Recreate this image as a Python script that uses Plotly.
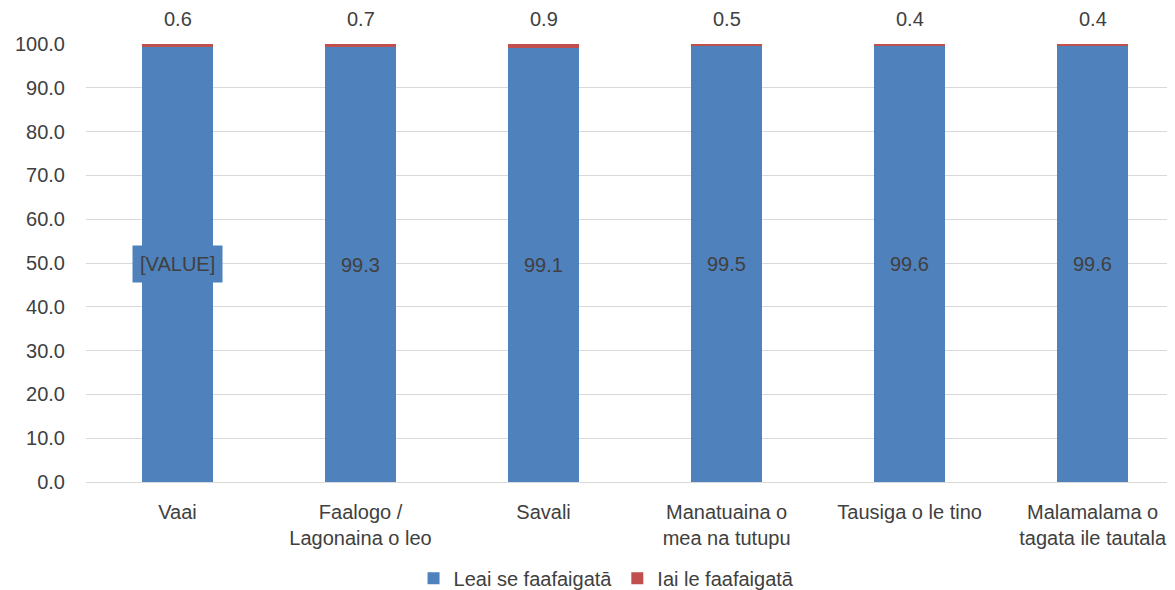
import plotly.graph_objects as go

categories = ["Vaai", "Faalogo /<br>Lagonaina o leo", "Savali", "Manatuaina o<br>mea na tutupu",
              "Tausiga o le tino", "Malamalama o<br>tagata ile tautala"]
leai = [99.4, 99.3, 99.1, 99.5, 99.6, 99.6]
iai = [0.6, 0.7, 0.9, 0.5, 0.4, 0.4]
leai_labels = ["[VALUE]", "99.3", "99.1", "99.5", "99.6", "99.6"]
iai_labels = ["0.6", "0.7", "0.9", "0.5", "0.4", "0.4"]
series_names = ["Leai se faafaigatā", "Iai le faafaigatā"]
y_ticks = [0, 10, 20, 30, 40, 50, 60, 70, 80, 90, 100]

BLUE = "#4F81BD"
RED = "#C0504D"
TXT = "#404040"
FONT = "Liberation Sans"
FS = 20

fig = go.Figure()
fig.add_trace(go.Bar(x=categories, y=leai, name=series_names[0], marker_color=BLUE,
                     width=0.39, marker_line_width=0))
fig.add_trace(go.Bar(x=categories, y=iai, name=series_names[1], marker_color=RED,
                     width=0.39, marker_line_width=0))

for i, c in enumerate(categories):
    fig.add_annotation(x=c, y=leai[i] / 2, text=leai_labels[i], showarrow=False,
                       font=dict(family=FONT, size=FS, color=TXT),
                       bgcolor=BLUE if i == 0 else "rgba(0,0,0,0)",
                       borderpad=7 if i == 0 else 0)
    fig.add_annotation(x=c, y=leai[i] + iai[i], text=iai_labels[i], showarrow=False,
                       yanchor="bottom", yshift=12,
                       font=dict(family=FONT, size=FS, color=TXT))

fig.update_layout(
    width=1167, height=582,
    barmode="stack",
    paper_bgcolor="white", plot_bgcolor="white",
    margin=dict(l=78, r=0, t=36, b=108, autoexpand=False),
    font=dict(family=FONT, size=FS, color=TXT),
    showlegend=True,
    legend=dict(orientation="h", x=0.478, xanchor="center", yref="container", y=0.02,
                yanchor="middle",
                font=dict(family=FONT, size=FS, color=TXT), traceorder="normal",
                itemwidth=30),
    xaxis=dict(range=[-0.5, 5.45], showgrid=False, showline=True, linecolor="#D9D9D9",
               linewidth=1, ticks="", automargin=False, ticklabelstandoff=12,
               tickfont=dict(family=FONT, size=FS, color=TXT)),
    yaxis=dict(range=[0, 100], tickvals=y_ticks, ticktext=[f"{v:.1f}" for v in y_ticks],
               showgrid=True, gridcolor="#D9D9D9", gridwidth=1, zeroline=False,
               showline=False, ticks="", ticklabelstandoff=20, automargin=False,
               tickfont=dict(family=FONT, size=FS, color=TXT)),
)

fig.write_html("out.html")
